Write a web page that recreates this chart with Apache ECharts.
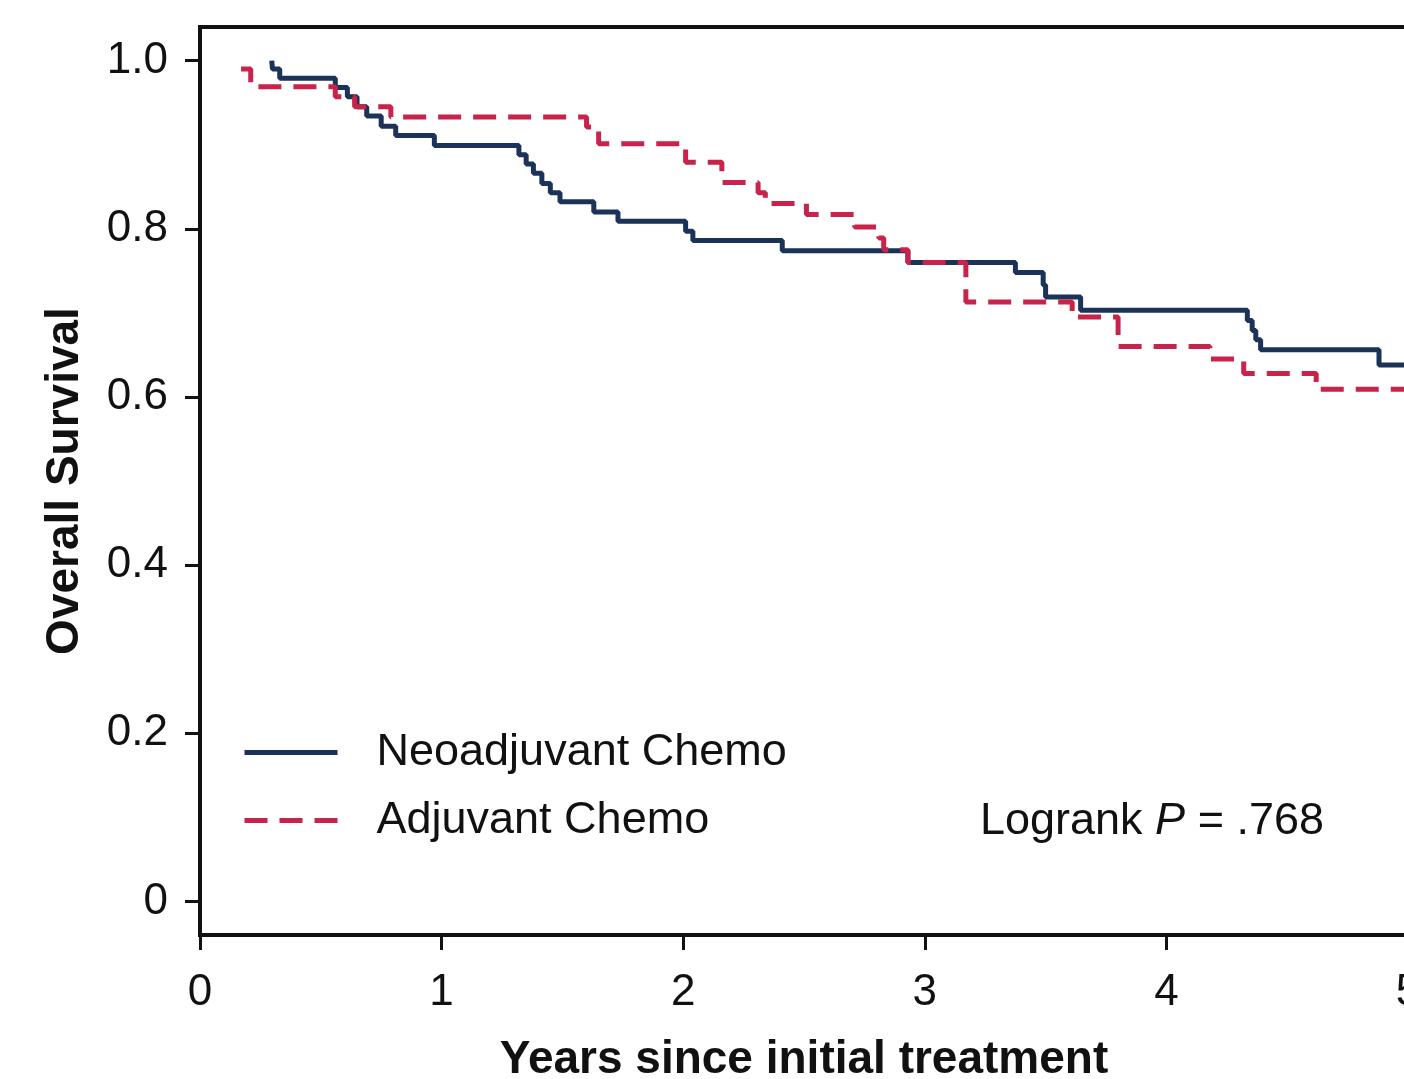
<!DOCTYPE html>
<html>
<head>
<meta charset="utf-8">
<script src="https://cdn.jsdelivr.net/npm/echarts@6/dist/echarts.min.js"></script>
<style>
html,body{margin:0;padding:0;background:#fff;}
#chart{width:1404px;height:1079px;}
</style>
</head>
<body>
<div id="chart"></div>
<script>
// Kaplan-Meier step data (time in years, survival after the event)
var neoTimes = [0.297, 0.30, 0.33, 0.56, 0.61, 0.65, 0.69, 0.75, 0.81, 0.97,
  1.32, 1.35, 1.38, 1.415, 1.45, 1.49, 1.63, 1.73, 2.01, 2.04, 2.41, 2.93,
  3.375, 3.49, 3.50, 3.645, 4.335, 4.355, 4.37, 4.39, 4.88, 5.0];
var neoSurv = [1.0, 0.990, 0.979, 0.968, 0.957, 0.945, 0.934, 0.922, 0.911, 0.899,
  0.888, 0.877, 0.866, 0.854, 0.843, 0.832, 0.820, 0.809, 0.797, 0.786, 0.774, 0.760,
  0.748, 0.733, 0.719, 0.703, 0.691, 0.679, 0.668, 0.656, 0.638, 0.638];

var adjTimes = [0.17, 0.21, 0.56, 0.64, 0.79, 1.60, 1.65, 2.01, 2.16, 2.31, 2.34,
  2.51, 2.71, 2.81, 2.83, 2.93, 3.17, 3.61, 3.80, 4.18, 4.32, 4.62, 5.0];
var adjSurv = [0.990, 0.969, 0.957, 0.945, 0.933, 0.921, 0.901, 0.879, 0.855, 0.843, 0.830,
  0.817, 0.802, 0.789, 0.775, 0.760, 0.713, 0.695, 0.660, 0.645, 0.628, 0.609, 0.609];

var seriesNames = ['Neoadjuvant Chemo', 'Adjuvant Chemo'];
var yTicks = [0, 0.2, 0.4, 0.6, 0.8, 1.0];
var xTicks = [0, 1, 2, 3, 4, 5];
var xTitle = 'Years since initial treatment';
var yTitle = 'Overall Survival';
var pText = ['Logrank ', 'P', ' = .768'];

function pairs(t, s) { return t.map(function (v, i) { return [v, s[i]]; }); }

var FONT = '"Liberation Sans", Arial, Helvetica, sans-serif';
var INK = '#111111';
var BLUE = '#1b3358';
var RED = '#c8234a';

var chart = echarts.init(document.getElementById('chart'), null, {renderer: 'canvas'});
chart.setOption({
  animation: false,
  backgroundColor: '#ffffff',
  grid: {
    left: 200, top: 27, right: -4, bottom: 144,
    outerBoundsMode: 'none', containLabel: false,
    show: true, borderColor: INK, borderWidth: 4, backgroundColor: 'transparent'
  },
  xAxis: {
    type: 'value', min: xTicks[0], max: xTicks[xTicks.length - 1], interval: 1,
    name: xTitle, nameLocation: 'middle', nameGap: 102,
    nameTextStyle: {fontFamily: FONT, fontSize: 46, fontWeight: 'bold', color: INK},
    axisLine: {show: true, onZero: false, lineStyle: {color: INK, width: 4}},
    axisTick: {show: true, inside: false, length: 15, lineStyle: {color: INK, width: 3}},
    axisLabel: {fontFamily: FONT, fontSize: 44, color: INK, margin: 36,
      formatter: function (v) { return String(v); }},
    splitLine: {show: false}
  },
  yAxis: {
    type: 'value', min: -0.04, max: 1.04,
    name: yTitle, nameLocation: 'middle', nameGap: 112,
    nameTextStyle: {fontFamily: FONT, fontSize: 46, fontWeight: 'bold', color: INK},
    axisLine: {show: true, onZero: false, lineStyle: {color: INK, width: 4}},
    axisTick: {show: true, inside: false, length: 15, customValues: yTicks,
      lineStyle: {color: INK, width: 3}},
    axisLabel: {fontFamily: FONT, fontSize: 44, color: INK, margin: 32, customValues: yTicks,
      formatter: function (v) { return v === 0 ? '0' : v.toFixed(1); }},
    splitLine: {show: false}
  },
  legend: {
    orient: 'vertical', left: 242, top: 730, padding: 0,
    itemWidth: 93, itemHeight: 2, itemGap: 23,
    data: seriesNames,
    itemStyle: {opacity: 0},
    lineStyle: {width: 5},
    textStyle: {fontFamily: FONT, fontSize: 45, color: INK, padding: [0, 0, 0, 34]}
  },
  graphic: [{
    type: 'text', left: 980, top: 799, z: 10,
    style: {
      rich: {
        a: {fontFamily: FONT, fontSize: 45, fill: INK},
        b: {fontFamily: FONT, fontSize: 45, fontStyle: 'italic', fill: INK}
      },
      text: '{a|' + pText[0] + '}{b|' + pText[1] + '}{a|' + pText[2] + '}'
    }
  }],
  series: [{
    name: seriesNames[0], type: 'line', step: 'end', symbol: 'none',
    data: pairs(neoTimes, neoSurv), clip: true,
    lineStyle: {color: BLUE, width: 5, type: 'solid'},
    itemStyle: {color: BLUE}, z: 3
  }, {
    name: seriesNames[1], type: 'line', step: 'end', symbol: 'none',
    data: pairs(adjTimes, adjSurv), clip: true,
    lineStyle: {color: RED, width: 5, type: [23, 12]},
    itemStyle: {color: RED}, z: 4
  }]
});
</script>
</body>
</html>
